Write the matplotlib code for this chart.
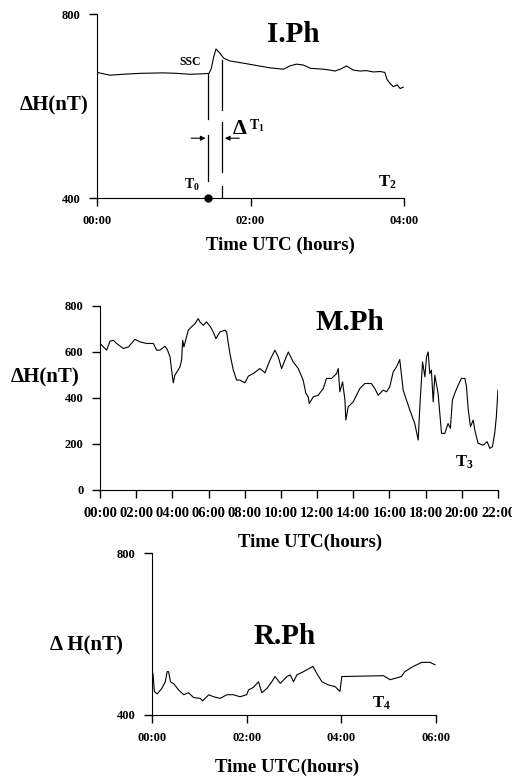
# Geomagnetic storm phases - dH at station, three panels
import numpy as np
import matplotlib.pyplot as plt

plt.rcParams['font.family'] = ['Liberation Serif', 'DejaVu Serif']
plt.rcParams['font.weight'] = 'bold'
plt.rcParams['mathtext.fontset'] = 'custom'
plt.rcParams['mathtext.rm'] = 'Liberation Serif:bold'
plt.rcParams['mathtext.it'] = 'Liberation Serif:bold'
plt.rcParams['mathtext.bf'] = 'Liberation Serif:bold'

# Initial phase (hours after 00:00, nT)
iph_hours = [0.0, 0.17, 0.34, 0.56, 0.86, 1.04, 1.21, 1.38, 1.46, 1.49, 1.52, 1.55,
             1.60, 1.65, 1.73, 1.91, 2.08, 2.25, 2.43, 2.51, 2.60, 2.69, 2.78, 2.95,
             3.04, 3.10, 3.17, 3.25, 3.34, 3.43, 3.51, 3.60, 3.69, 3.75, 3.78, 3.82,
             3.86, 3.91, 3.95, 3.99]
iph_dh = [673, 667, 669, 671, 672, 671, 669, 670, 671, 682, 707, 724,
          715, 704, 698, 693, 688, 683, 680, 687, 691, 689, 682, 680,
          678, 676, 680, 687, 678, 676, 677, 674, 675, 673, 657, 649,
          642, 646, 638, 641]

# SSC onset and delta T1 markers
t0_hour = 1.45
t1_hour = 1.63
t0_segments = [(670, 572), (537, 437)]
t1_segments = [(700, 591), (565, 457), (426, 400)]
arrow_level = 530

# Main phase
mph_hours = [0.0, 0.28, 0.37, 0.55, 0.74, 0.92, 1.29, 1.57, 1.93, 2.21, 2.58, 2.95,
             3.13, 3.31, 3.59, 3.72, 3.87, 3.96, 4.05, 4.14, 4.42, 4.51, 4.57, 4.64,
             4.88, 5.06, 5.25, 5.43, 5.52, 5.71, 5.89, 6.11, 6.26, 6.41, 6.63, 6.91,
             7.0, 7.18, 7.37, 7.55, 7.73, 8.01, 8.20, 8.47, 8.84, 9.12, 9.39, 9.67,
             9.85, 10.04, 10.22, 10.41, 10.68, 10.96, 11.23, 11.38, 11.51, 11.57, 11.79,
             12.06, 12.34, 12.52, 12.80, 13.08, 13.17, 13.26, 13.41, 13.54, 13.59, 13.72,
             14.0, 14.36, 14.64, 15.0, 15.19, 15.38, 15.65, 15.84, 16.02, 16.21, 16.39,
             16.57, 16.76, 16.94, 17.13, 17.40, 17.59, 17.68, 17.83, 17.96, 18.05, 18.14,
             18.23, 18.32, 18.42, 18.51, 18.69, 18.88, 19.06, 19.24, 19.37, 19.48, 19.61,
             19.80, 19.98, 20.17, 20.26, 20.35, 20.48, 20.63, 20.72, 20.90, 21.18, 21.40,
             21.55, 21.69, 21.82, 21.91, 22.0]
mph_dh = [637, 615, 608, 647, 651, 637, 615, 622, 655, 644, 637, 637,
          608, 608, 625, 611, 579, 521, 466, 499, 535, 564, 651, 622,
          695, 709, 723, 745, 731, 716, 731, 709, 687, 658, 687, 695,
          687, 593, 521, 478, 478, 466, 495, 506, 528, 509, 564, 608,
          579, 528, 564, 600, 557, 528, 478, 420, 405, 376, 405,
          412, 441, 485, 485, 506, 528, 427, 470, 391, 304, 362,
          383, 441, 463, 463, 441, 412, 434, 427, 449, 514, 535,
          567, 434, 391, 347, 289, 217, 362, 557, 492, 579, 600,
          506, 521, 383, 499, 420, 246, 246, 289, 268, 391, 420,
          456, 485, 485, 449, 354, 275, 304, 260, 203, 195, 210,
          181, 188, 246, 318, 434]

# Recovery phase
rph_hours = [0.0, 0.02, 0.05, 0.11, 0.21, 0.28, 0.32, 0.35, 0.39, 0.46, 0.56, 0.67,
             0.77, 0.88, 1.02, 1.07, 1.20, 1.30, 1.44, 1.58, 1.72, 1.86, 2.0, 2.04,
             2.14, 2.25, 2.32, 2.43, 2.53, 2.60, 2.71, 2.85, 2.92, 2.99, 3.06, 3.20,
             3.34, 3.40, 3.48, 3.59, 3.73, 3.87, 3.97, 4.01, 4.04, 4.89, 5.03, 5.27,
             5.34, 5.52, 5.70, 5.87, 5.98]
rph_dh = [470, 503, 458, 452, 466, 482, 507, 507, 482, 477, 462, 450,
          455, 443, 441, 435, 450, 445, 441, 450, 450, 445, 450, 462,
          468, 482, 455, 466, 482, 495, 478, 495, 499, 482, 499, 507,
          516, 520, 503, 482, 474, 470, 458, 495, 495, 497, 487, 495,
          507, 520, 530, 530, 524]


def fpos(x, y):
    return x / 512, 1 - y / 778


def style(ax):
    ax.spines['top'].set_visible(False)
    ax.spines['right'].set_visible(False)
    ax.tick_params(direction='out', length=6, width=1, labelsize=9, pad=6)


fig = plt.figure(figsize=(5.12, 7.78), dpi=100)

# Panel 1
ax1 = fig.add_axes([0.1895, 0.7455, 0.5996, 0.2365])
ax1.plot(iph_hours, iph_dh, color='black', lw=0.8)
for a, b in t0_segments:
    ax1.plot([t0_hour, t0_hour], [a, b], color='black', lw=0.9)
for a, b in t1_segments:
    ax1.plot([t1_hour, t1_hour], [a, b], color='black', lw=0.9)
ax1.annotate('', xy=(t0_hour, arrow_level), xytext=(t0_hour - 0.26, arrow_level),
             arrowprops=dict(arrowstyle='-|>', color='black', lw=0.8, mutation_scale=7))
ax1.annotate('', xy=(t1_hour, arrow_level), xytext=(t1_hour + 0.26, arrow_level),
             arrowprops=dict(arrowstyle='-|>', color='black', lw=0.8, mutation_scale=7))
ax1.plot([t0_hour], [400], 'o', color='black', ms=5, clip_on=False, zorder=5)
ax1.set_xlim(0, 4)
ax1.set_ylim(400, 800)
ax1.set_xticks([0, 2, 4])
ax1.set_xticklabels(['00:00', '02:00', '04:00'])
ax1.set_yticks([400, 800])
style(ax1)

# Panel 2
ax2 = fig.add_axes([0.1953, 0.3702, 0.7773, 0.2365])
ax2.plot(mph_hours, mph_dh, color='black', lw=0.8)
ax2.set_xlim(0, 22)
ax2.set_ylim(0, 800)
ax2.set_xticks(range(0, 23, 2))
ax2.set_xticklabels(['%02d:00' % h for h in range(0, 23, 2)])
ax2.set_yticks([0, 200, 400, 600, 800])
style(ax2)
ax2.tick_params(axis='x', labelsize=10.5)

# Panel 3
ax3 = fig.add_axes([0.2969, 0.0810, 0.5547, 0.2082])
ax3.plot(rph_hours, rph_dh, color='black', lw=0.8)
ax3.set_xlim(0, 6)
ax3.set_ylim(400, 800)
ax3.set_xticks([0, 2, 4, 6])
ax3.set_xticklabels(['00:00', '02:00', '04:00', '06:00'])
ax3.set_yticks([400, 800])
style(ax3)

# texts
fig.text(*fpos(293, 35), 'I.Ph', fontsize=21, ha='center', va='center')
fig.text(*fpos(350, 323), 'M.Ph', fontsize=21, ha='center', va='center')
fig.text(*fpos(285, 637), 'R.Ph', fontsize=21, ha='center', va='center')

fig.text(*fpos(54, 105), 'ΔH(nT)', fontsize=15, ha='center', va='center')
fig.text(*fpos(45, 377), 'ΔH(nT)', fontsize=15, ha='center', va='center')
fig.text(*fpos(86, 645), 'Δ H(nT)', fontsize=15, ha='center', va='center')

fig.text(*fpos(280, 245), 'Time UTC (hours)', fontsize=13.5, ha='center', va='center')
fig.text(*fpos(310, 542), 'Time UTC(hours)', fontsize=13.5, ha='center', va='center')
fig.text(*fpos(287, 767), 'Time UTC(hours)', fontsize=13.5, ha='center', va='center')

fig.text(*fpos(190, 62), 'SSC', fontsize=8.5, ha='center', va='center')
fig.text(*fpos(192, 185), r'T$_0$', fontsize=10, ha='center', va='center')
fig.text(*fpos(240, 129), 'Δ', fontsize=16, ha='center', va='center')
fig.text(*fpos(257, 126), r'T$_1$', fontsize=10, ha='center', va='center')
fig.text(*fpos(387, 182), r'T$_2$', fontsize=12, ha='center', va='center')
fig.text(*fpos(464, 462), r'T$_3$', fontsize=12, ha='center', va='center')
fig.text(*fpos(381, 703), r'T$_4$', fontsize=12, ha='center', va='center')

fig.savefig('out.png', dpi=100)
